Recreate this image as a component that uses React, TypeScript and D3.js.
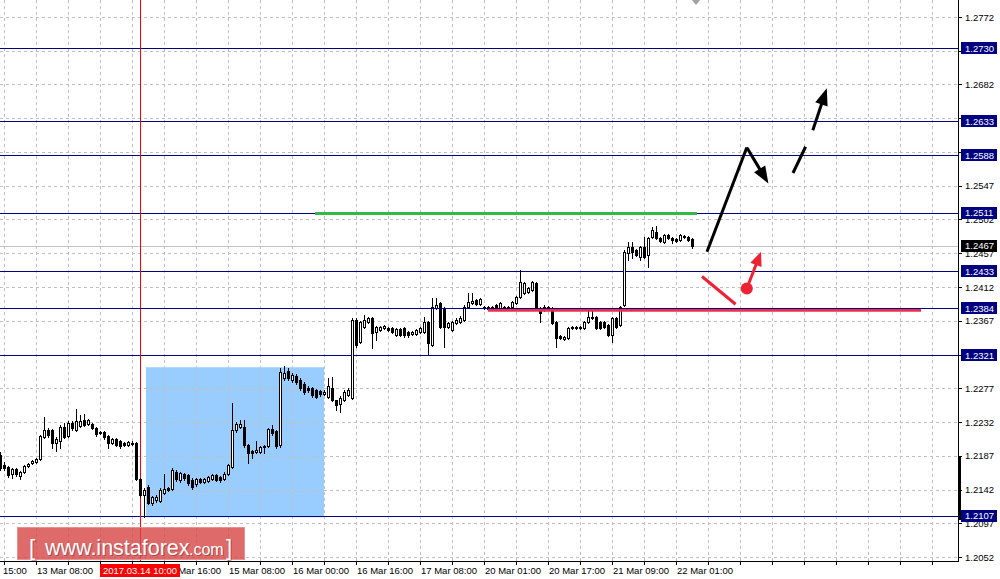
import React from "react";
import * as d3 from "d3";

// ---- Data (H1 candles) ----
const opens = [
  1.2188,1.2175,1.2172,1.2163,1.2169,1.2160,1.2165,1.2173,1.2177,1.2179,
  1.2183,1.2212,1.2221,1.2221,1.2204,1.2207,1.2225,1.2213,1.2231,1.2221,
  1.2227,1.2235,1.2229,1.2229,1.2224,1.2219,1.2219,1.2213,1.2204,1.2209,
  1.2207,1.2204,1.2201,1.2203,1.2204,1.2156,1.2135,1.2145,1.2124,1.2128,
  1.2127,1.2137,1.2144,1.2143,1.2165,1.2155,1.2163,1.2161,1.2155,1.2149,
  1.2156,1.2152,1.2153,1.2156,1.2161,1.2159,1.2156,1.2163,1.2172,1.2221,
  1.2225,1.2225,1.2201,1.2193,1.2192,1.2192,1.2199,1.2200,1.2223,1.2220,
  1.2201,1.2291,1.2300,1.2288,1.2293,1.2288,1.2283,1.2277,1.2277,1.2275,
  1.2273,1.2269,1.2265,1.2277,1.2261,1.2256,1.2261,1.2268,1.2264,1.2368,
  1.2339,1.2359,1.2365,1.2371,1.2352,1.2355,1.2357,1.2357,1.2357,1.2348,
  1.2356,1.2357,1.2352,1.2349,1.2349,1.2352,1.2352,1.2365,1.2335,1.2384,
  1.2391,1.2384,1.2359,1.2355,1.2364,1.2365,1.2368,1.2385,1.2391,1.2395,
  1.2389,1.2385,1.2385,1.2384,1.2388,1.2384,1.2385,1.2384,1.2385,1.2391,
  1.2399,1.2404,1.2405,1.2408,1.2417,1.2384,1.2385,1.2383,1.2384,1.2365,
  1.2347,1.2343,1.2344,1.2357,1.2359,1.2357,1.2357,1.2365,1.2371,1.2372,
  1.2365,1.2365,1.2361,1.2348,1.2371,1.2361,1.2388,1.2457,1.2465,1.2461,
  1.2452,1.2465,1.2455,1.2479,1.2485,1.2477,1.2472,1.2481,1.2477,1.2476,
  1.2475,1.2480,1.2479,1.2476,
];
const highs = [
  1.2192,1.2179,1.2173,1.2171,1.2171,1.2167,1.2175,1.2177,1.2181,1.2184,
  1.2215,1.2239,1.2224,1.2223,1.2212,1.2228,1.2231,1.2233,1.2233,1.2249,
  1.2241,1.2243,1.2236,1.2231,1.2225,1.2220,1.2220,1.2215,1.2211,1.2211,
  1.2208,1.2205,1.2207,1.2207,1.2205,1.2157,1.2144,1.2148,1.2133,1.2135,
  1.2144,1.2163,1.2145,1.2171,1.2168,1.2165,1.2164,1.2163,1.2157,1.2157,
  1.2157,1.2157,1.2160,1.2163,1.2163,1.2160,1.2165,1.2176,1.2257,1.2232,
  1.2235,1.2235,1.2203,1.2195,1.2207,1.2200,1.2201,1.2224,1.2228,1.2221,
  1.2304,1.2307,1.2304,1.2297,1.2296,1.2291,1.2285,1.2280,1.2279,1.2276,
  1.2275,1.2275,1.2291,1.2292,1.2262,1.2267,1.2275,1.2277,1.2371,1.2371,
  1.2367,1.2375,1.2372,1.2372,1.2360,1.2360,1.2361,1.2359,1.2359,1.2357,
  1.2357,1.2359,1.2353,1.2353,1.2356,1.2359,1.2372,1.2367,1.2397,1.2397,
  1.2392,1.2385,1.2365,1.2367,1.2371,1.2373,1.2388,1.2404,1.2404,1.2396,
  1.2397,1.2387,1.2387,1.2387,1.2389,1.2392,1.2387,1.2387,1.2393,1.2400,
  1.2435,1.2419,1.2412,1.2420,1.2419,1.2385,1.2388,1.2387,1.2385,1.2367,
  1.2348,1.2347,1.2359,1.2360,1.2360,1.2360,1.2367,1.2381,1.2381,1.2373,
  1.2367,1.2367,1.2363,1.2372,1.2372,1.2387,1.2461,1.2472,1.2472,1.2463,
  1.2467,1.2479,1.2479,1.2492,1.2493,1.2479,1.2483,1.2483,1.2479,1.2477,
  1.2483,1.2481,1.2480,1.2477,
];
const lows = [
  1.2168,1.2168,1.2159,1.2157,1.2160,1.2156,1.2164,1.2172,1.2176,1.2177,
  1.2181,1.2211,1.2212,1.2197,1.2193,1.2197,1.2211,1.2212,1.2221,1.2220,
  1.2225,1.2227,1.2228,1.2223,1.2213,1.2216,1.2209,1.2197,1.2203,1.2200,
  1.2197,1.2200,1.2200,1.2201,1.2155,1.2132,1.2105,1.2123,1.2121,1.2125,
  1.2125,1.2136,1.2140,1.2141,1.2153,1.2152,1.2155,1.2148,1.2143,1.2147,
  1.2151,1.2151,1.2152,1.2155,1.2153,1.2152,1.2155,1.2161,1.2171,1.2219,
  1.2224,1.2199,1.2177,1.2184,1.2191,1.2191,1.2191,1.2199,1.2215,1.2197,
  1.2199,1.2288,1.2288,1.2285,1.2283,1.2275,1.2269,1.2272,1.2265,1.2264,
  1.2267,1.2268,1.2264,1.2260,1.2248,1.2245,1.2260,1.2267,1.2263,1.2332,
  1.2337,1.2357,1.2364,1.2331,1.2341,1.2353,1.2356,1.2353,1.2351,1.2347,
  1.2347,1.2345,1.2345,1.2348,1.2348,1.2351,1.2351,1.2321,1.2333,1.2383,
  1.2357,1.2332,1.2357,1.2353,1.2363,1.2364,1.2367,1.2384,1.2389,1.2388,
  1.2388,1.2383,1.2381,1.2383,1.2383,1.2383,1.2383,1.2383,1.2384,1.2389,
  1.2397,1.2403,1.2404,1.2407,1.2383,1.2365,1.2380,1.2381,1.2363,1.2332,
  1.2343,1.2341,1.2343,1.2356,1.2356,1.2356,1.2356,1.2364,1.2369,1.2356,
  1.2356,1.2357,1.2347,1.2339,1.2357,1.2360,1.2387,1.2448,1.2451,1.2453,
  1.2448,1.2451,1.2439,1.2477,1.2476,1.2472,1.2471,1.2476,1.2471,1.2472,
  1.2473,1.2477,1.2473,1.2464,
];
const closes = [
  1.2171,1.2171,1.2161,1.2169,1.2163,1.2165,1.2173,1.2176,1.2180,1.2183,
  1.2213,1.2221,1.2215,1.2204,1.2209,1.2225,1.2212,1.2231,1.2224,1.2233,
  1.2233,1.2228,1.2235,1.2224,1.2216,1.2217,1.2212,1.2204,1.2209,1.2201,
  1.2200,1.2201,1.2205,1.2204,1.2156,1.2135,1.2141,1.2124,1.2132,1.2132,
  1.2141,1.2143,1.2141,1.2168,1.2156,1.2164,1.2157,1.2151,1.2145,1.2156,
  1.2152,1.2156,1.2159,1.2161,1.2155,1.2155,1.2163,1.2175,1.2221,1.2229,
  1.2229,1.2201,1.2191,1.2191,1.2195,1.2199,1.2200,1.2223,1.2217,1.2200,
  1.2299,1.2297,1.2291,1.2295,1.2285,1.2277,1.2272,1.2275,1.2268,1.2265,
  1.2269,1.2272,1.2280,1.2261,1.2255,1.2264,1.2272,1.2275,1.2368,1.2335,
  1.2365,1.2368,1.2371,1.2351,1.2359,1.2359,1.2360,1.2355,1.2352,1.2356,
  1.2348,1.2348,1.2348,1.2352,1.2355,1.2357,1.2365,1.2337,1.2385,1.2388,
  1.2359,1.2359,1.2364,1.2365,1.2368,1.2371,1.2385,1.2392,1.2393,1.2389,
  1.2396,1.2384,1.2383,1.2385,1.2384,1.2391,1.2384,1.2385,1.2392,1.2399,
  1.2419,1.2417,1.2411,1.2419,1.2384,1.2377,1.2381,1.2385,1.2364,1.2344,
  1.2344,1.2345,1.2357,1.2359,1.2357,1.2359,1.2365,1.2372,1.2372,1.2357,
  1.2357,1.2359,1.2348,1.2371,1.2359,1.2385,1.2459,1.2465,1.2459,1.2455,
  1.2465,1.2452,1.2477,1.2488,1.2477,1.2473,1.2481,1.2477,1.2475,1.2473,
  1.2481,1.2479,1.2475,1.2467,
];

const priceTicks = [
  1.2772, 1.2727, 1.2682, 1.2637, 1.2592, 1.2547, 1.2502, 1.2457, 1.2412,
  1.2367, 1.2322, 1.2277, 1.2232, 1.2187, 1.2142, 1.2097, 1.2052,
];
// tick labels fully covered by level boxes in the reference
const hiddenTickLabels = [1.2727, 1.2637, 1.2592, 1.2322];
const levels = [1.273, 1.2633, 1.2588, 1.2511, 1.2433, 1.2384, 1.2321, 1.2107];
const bidPrice = 1.2467;

// time labels: the first one is clipped at the left edge, the 14 Mar 00:00 one is covered by the cursor label
const timeLabelIdx = [9, 41, 57, 73, 89, 105, 121, 137, 153, 169];
const timeLabels = [
  "13 Mar 08:00", "14 Mar 16:00", "15 Mar 08:00",
  "16 Mar 00:00", "16 Mar 16:00", "17 Mar 08:00", "20 Mar 01:00", "20 Mar 17:00",
  "21 Mar 09:00", "22 Mar 01:00",
];
const clippedFirstLabel = "15:00";
const gridIdx = d3.range(1, 240, 8);
const cursorIdx = 35;
const cursorLabel = "2017.03.14 10:00";

// annotations in (bar index, price)
const boxZone = { i0: 36.5, i1: 81, p0: 1.2305, p1: 1.2105 };
const greenLine = { i0: 78.75, i1: 174.25, p: 1.2510 };
const redLine = { i0: 122, i1: 230.25, p: 1.2381 };
const blackPath: [number, number][] = [[176.75, 1.2459], [186.7, 1.2598]];
const blackArrow: [number, number][] = [[186.7, 1.2598], [192.1, 1.255]];
const dashSeg1: [number, number][] = [[198.25, 1.2564], [201.4, 1.2599]];
const dashArrow: [number, number][] = [[203.2, 1.2621], [206.7, 1.2677]];
const redSeg: [number, number][] = [[175.5, 1.2426], [183.9, 1.2389]];
const redArrow: [number, number][] = [[186.7, 1.241], [190.25, 1.2459]];

const W = 1000;
const H = 579;
const plotRight = 958;
const plotBottom = 561;

export default function App() {
  const x = d3.scaleLinear().domain([0, 1]).range([0, 4]);
  const y = d3.scaleLinear().domain([1.2052, 1.2772]).range([557, 17]);
  const cy = (v: number) => Math.round(y(v)) + 0.5;
  const font = "'Liberation Sans', Arial, sans-serif";

  const arrowHead = (
    from: [number, number],
    to: [number, number],
    L: number,
    Wd: number
  ) => {
    const x1 = x(from[0]), y1 = y(from[1]), x2 = x(to[0]), y2 = y(to[1]);
    const dx = x2 - x1, dy = y2 - y1;
    const len = Math.hypot(dx, dy);
    const ux = dx / len, uy = dy / len;
    const bx = x2 - ux * L, by = y2 - uy * L;
    const px = -uy, py = ux;
    return {
      line: [x1, y1, bx + ux * 2, by + uy * 2],
      poly: `${x2},${y2} ${bx + px * Wd},${by + py * Wd} ${bx - px * Wd},${by - py * Wd}`,
    };
  };

  const bArrow = arrowHead(blackArrow[0], blackArrow[1], 17, 6.5);
  const dArrow = arrowHead(dashArrow[0], dashArrow[1], 17, 6.5);
  const rArrow = arrowHead(redArrow[0], redArrow[1], 14, 6);

  return (
    <svg
      width={W}
      height={H}
      style={{ position: "absolute", left: 0, top: 0, background: "#fff" }}
      fontFamily={font}
    >
      <rect x={0} y={0} width={W} height={H} fill="#fff" />
      {/* blue zone */}
      <rect
        x={x(boxZone.i0)}
        y={y(boxZone.p0)}
        width={x(boxZone.i1) - x(boxZone.i0)}
        height={y(boxZone.p1) - y(boxZone.p0)}
        fill="#99ccff"
      />
      {/* grid */}
      <g stroke="#c0c0c0" strokeWidth={1} strokeDasharray="3,3">
        {priceTicks.map((p) => (
          <line key={"h" + p} x1={0} x2={plotRight} y1={cy(p)} y2={cy(p)} />
        ))}
        {gridIdx
          .filter((i) => x(i) < plotRight)
          .map((i) => (
            <line key={"v" + i} x1={x(i) + 0.5} x2={x(i) + 0.5} y1={0} y2={plotBottom} />
          ))}
      </g>
      {/* bid line */}
      <line x1={0} x2={plotRight} y1={cy(bidPrice)} y2={cy(bidPrice)} stroke="#c0c0c0" />
      {/* levels */}
      {levels.map((p) => (
        <line key={"l" + p} x1={0} x2={plotRight} y1={cy(p)} y2={cy(p)} stroke="#000080" />
      ))}
      {/* cursor vertical */}
      <line x1={x(cursorIdx) + 0.5} x2={x(cursorIdx) + 0.5} y1={0} y2={plotBottom} stroke="#ff0000" />
      {/* candles */}
      <g>
        {closes.map((c, i) => {
          const o = opens[i];
          const cx = x(i);
          const top = Math.round(y(Math.max(o, c)));
          const bot = Math.round(y(Math.min(o, c)));
          const bull = c >= o;
          return (
            <g key={i}>
              <line
                x1={cx + 0.5}
                x2={cx + 0.5}
                y1={Math.round(y(highs[i]))}
                y2={Math.round(y(lows[i])) + 1}
                stroke="#000"
              />
              {bot - top < 1 ? (
                <line x1={cx - 1} x2={cx + 2} y1={top + 0.5} y2={top + 0.5} stroke="#000" />
              ) : (
                <rect
                  x={cx - 0.5}
                  y={top + 0.5}
                  width={2}
                  height={bot - top}
                  fill={bull ? "#fff" : "#000"}
                  stroke="#000"
                />
              )}
            </g>
          );
        })}
      </g>
      {/* green & red horizontal */}
      <line x1={x(greenLine.i0)} x2={x(greenLine.i1)} y1={y(greenLine.p)} y2={y(greenLine.p)} stroke="#33b84a" strokeWidth={3} />
      <line x1={x(redLine.i0)} x2={x(redLine.i1)} y1={y(redLine.p)} y2={y(redLine.p)} stroke="#ea3048" strokeWidth={3} />
      <line x1={0} x2={plotRight} y1={cy(1.2384)} y2={cy(1.2384)} stroke="#000080" />
      {/* black arrows */}
      <polyline
        points={[...blackPath, blackArrow[0]].map((d) => `${x(d[0])},${y(d[1])}`).join(" ")}
        fill="none"
        stroke="#000"
        strokeWidth={3}
      />
      <line x1={bArrow.line[0]} y1={bArrow.line[1]} x2={bArrow.line[2]} y2={bArrow.line[3]} stroke="#000" strokeWidth={3} />
      <polygon points={bArrow.poly} fill="#000" />
      <line x1={x(dashSeg1[0][0])} y1={y(dashSeg1[0][1])} x2={x(dashSeg1[1][0])} y2={y(dashSeg1[1][1])} stroke="#000" strokeWidth={3} />
      <line x1={dArrow.line[0]} y1={dArrow.line[1]} x2={dArrow.line[2]} y2={dArrow.line[3]} stroke="#000" strokeWidth={3} />
      <polygon points={dArrow.poly} fill="#000" />
      {/* red arrows */}
      <line x1={x(redSeg[0][0])} y1={y(redSeg[0][1])} x2={x(redSeg[1][0])} y2={y(redSeg[1][1])} stroke="#ee2233" strokeWidth={3} />
      <line x1={rArrow.line[0]} y1={rArrow.line[1]} x2={rArrow.line[2]} y2={rArrow.line[3]} stroke="#ee2233" strokeWidth={3} />
      <polygon points={rArrow.poly} fill="#ee2233" />
      <circle cx={x(redArrow[0][0])} cy={y(redArrow[0][1])} r={6} fill="#ee2233" />

      {/* chart shift marker */}
      <polygon points="692,0 700,0 696,5" fill="#a0a0a0" />

      {/* axes */}
      <line x1={plotRight + 0.5} x2={plotRight + 0.5} y1={0} y2={plotBottom + 1} stroke="#000" />
      <line x1={0} x2={plotRight + 1} y1={plotBottom + 0.5} y2={plotBottom + 0.5} stroke="#000" />
      <rect x={958} y={457} width={3} height={63} fill="#000" />
      {/* price tick labels */}
      <g fontSize={9.5} fill="#000">
        {priceTicks.map((p) => (
          <g key={"t" + p}>
            <line x1={plotRight} x2={plotRight + 4} y1={cy(p)} y2={cy(p)} stroke="#000" />
            {hiddenTickLabels.includes(p) ? null : (
              <text x={965} y={y(p) + 3.5}>{p.toFixed(4)}</text>
            )}
          </g>
        ))}
        {levels.map((p) => (
          <g key={"lb" + p}>
            <rect x={961} y={Math.round(y(p)) - 6} width={36} height={12} fill="#000080" />
            <text x={965} y={y(p) + 3.5} fill="#fff">{p.toFixed(4)}</text>
          </g>
        ))}
        <rect x={961} y={Math.round(y(bidPrice)) - 6} width={36} height={12} fill="#000" />
        <text x={965} y={y(bidPrice) + 3.5} fill="#fff">{bidPrice.toFixed(4)}</text>
      </g>
      {/* time axis */}
      <g fontSize={9.5} fill="#000">
        {gridIdx
          .filter((i) => x(i) < plotRight)
          .map((i) => (
            <line key={"xt" + i} x1={x(i) + 0.5} x2={x(i) + 0.5} y1={plotBottom} y2={plotBottom + 4} stroke="#000" />
          ))}
        <text x={3} y={574}>{clippedFirstLabel}</text>
        {timeLabelIdx.map((i, k) => (
          <text key={"xl" + i} x={x(i) + 1} y={574}>{timeLabels[k]}</text>
        ))}
        <rect x={x(cursorIdx) - 40} y={564} width={80} height={13} fill="#ff0000" />
        <text x={x(cursorIdx)} y={574} fill="#fff" textAnchor="middle">{cursorLabel}</text>
      </g>

      {/* watermark */}
      <g>
        <rect x={17.5} y={527.5} width={227} height={32} fill="#d64545" fillOpacity={0.8} stroke="#e89090" />
        <g fontFamily={font} fill="#7a1d1d" fillOpacity={0.45} transform="translate(1,1)">
          <text x={29} y={555} fontSize={22}>[</text>
          <text x={45} y={555} fontSize={21.5}>www.instaforex</text>
          <text x={189} y={555} fontSize={16}>.com</text>
          <text x={226} y={555} fontSize={22}>]</text>
        </g>
        <g fontFamily={font} fill="#fff">
          <text x={29} y={555} fontSize={22}>[</text>
          <text x={45} y={555} fontSize={21.5}>www.instaforex</text>
          <text x={189} y={555} fontSize={16}>.com</text>
          <text x={226} y={555} fontSize={22}>]</text>
        </g>
      </g>
    </svg>
  );
}
